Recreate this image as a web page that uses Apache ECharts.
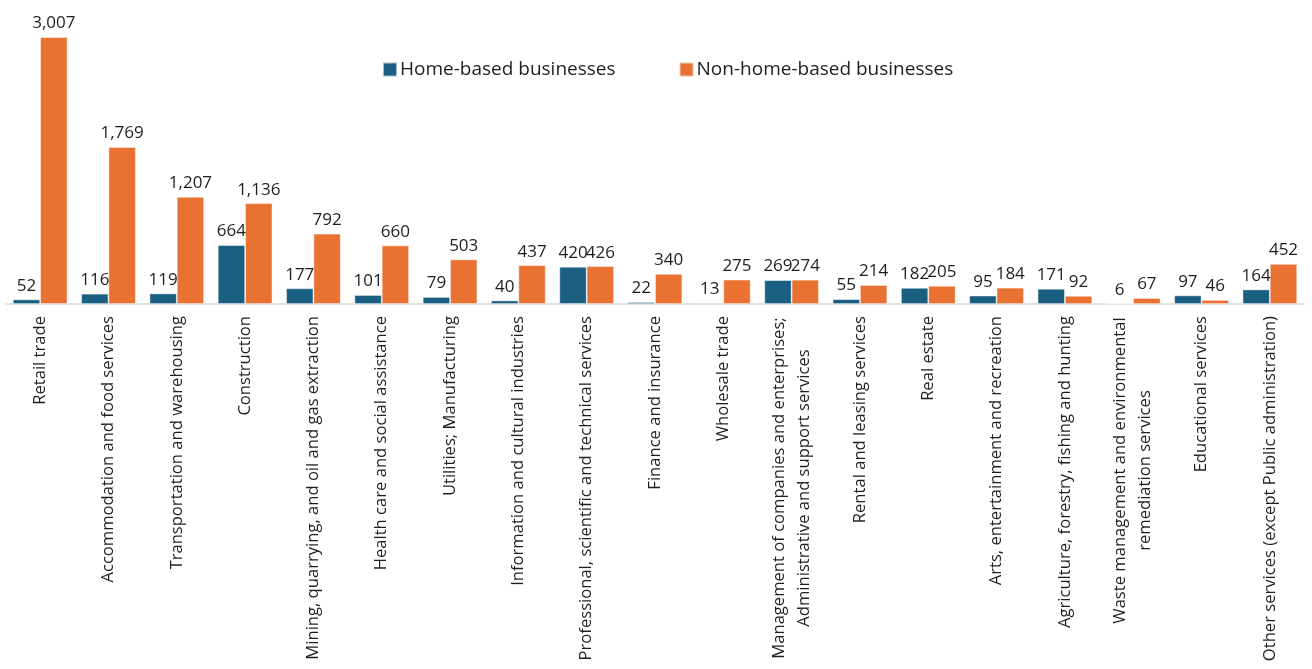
<!DOCTYPE html>
<html>
<head>
<meta charset="utf-8">
<script src="https://cdn.jsdelivr.net/npm/echarts@6/dist/echarts.min.js"></script>
<style>
  html, body { margin: 0; padding: 0; background: #fff; }
  #chart { width: 1312px; height: 669px; }
</style>
</head>
<body>
<div id="chart"></div>
<script>
// Industry categories (line breaks mark two-line axis labels)
const categories = [
  'Retail trade',
  'Accommodation and food services',
  'Transportation and warehousing',
  'Construction',
  'Mining, quarrying, and oil and gas extraction',
  'Health care and social assistance',
  'Utilities; Manufacturing',
  'Information and cultural industries',
  'Professional, scientific and technical services',
  'Finance and insurance',
  'Wholesale trade',
  'Management of companies and enterprises;\nAdministrative and support services',
  'Rental and leasing services',
  'Real estate',
  'Arts, entertainment and recreation',
  'Agriculture, forestry, fishing and hunting',
  'Waste management and environmental\nremediation services',
  'Educational services',
  'Other services (except Public administration)'
];

const homeBased = [52, 116, 119, 664, 177, 101, 79, 40, 420, 22, 13, 269, 55, 182, 95, 171, 6, 97, 164];
const nonHomeBased = [3007, 1769, 1207, 1136, 792, 660, 503, 437, 426, 340, 275, 274, 214, 205, 184, 92, 67, 46, 452];

const seriesNames = ['Home-based businesses', 'Non-home-based businesses'];

const FONT = '"Open Sans", "Noto Sans", sans-serif';
const AXIS_FONT_SIZE = 16.6;
const AXIS_LINE_HEIGHT = 25;
const TEXT_COLOR = '#1e1e1e';

// Measure text so multi-line labels can be centred line by line
const measureCtx = document.createElement('canvas').getContext('2d');
measureCtx.font = AXIS_FONT_SIZE + 'px ' + FONT;
const rich = {};
const labelKeys = {};
categories.forEach((c, i) => {
  const lines = c.split('\n');
  if (lines.length > 1) {
    const w = Math.ceil(Math.max(...lines.map(l => measureCtx.measureText(l).width))) + 2;
    const key = 'm' + i;
    rich[key] = { width: w, align: 'center', fontSize: AXIS_FONT_SIZE, fontFamily: FONT, color: TEXT_COLOR, lineHeight: AXIS_LINE_HEIGHT };
    labelKeys[c] = key;
  }
});

const fmt = v => v.toLocaleString('en-US');

const chart = echarts.init(document.getElementById('chart'), null, { renderer: 'canvas' });
chart.setOption({
  animation: false,
  textStyle: { fontFamily: FONT },
  legend: {
    data: seriesNames,
    left: 377,
    top: 55,
    itemWidth: 14,
    itemHeight: 14,
    itemGap: 63,
    icon: 'rect',
    textStyle: { fontSize: 19, color: TEXT_COLOR, fontFamily: FONT, padding: [0, 0, 0, -2] }
  },
  grid: { left: 6, right: 8, top: 20, bottom: 365, containLabel: false },
  xAxis: {
    type: 'category',
    data: categories,
    axisLine: { lineStyle: { color: '#d9d9d9', width: 1.5 } },
    axisTick: { show: false },
    axisLabel: {
      interval: 0,
      rotate: 90,
      margin: 12,
      fontSize: AXIS_FONT_SIZE,
      fontFamily: FONT,
      color: TEXT_COLOR,
      lineHeight: AXIS_LINE_HEIGHT,
      formatter: function (value) {
        const key = labelKeys[value];
        if (!key) return value;
        return value.split('\n').map(l => '{' + key + '|' + l + '}').join('\n');
      },
      rich: rich
    }
  },
  yAxis: {
    type: 'value',
    min: 0,
    max: 3200,
    show: false,
    splitLine: { show: false }
  },
  series: [
    {
      name: seriesNames[0],
      type: 'bar',
      data: homeBased,
      barGap: '0%',
      barCategoryGap: '20%',
      itemStyle: { color: '#1a5f82', borderColor: 'rgba(255,255,255,0.6)', borderWidth: 0.8 },
      label: {
        show: true, position: 'top', distance: 5,
        fontSize: 17, fontFamily: FONT, color: TEXT_COLOR,
        formatter: p => fmt(p.value)
      }
    },
    {
      name: seriesNames[1],
      type: 'bar',
      data: nonHomeBased,
      barGap: '0%',
      barCategoryGap: '20%',
      itemStyle: { color: '#e97132', borderColor: 'rgba(255,255,255,0.6)', borderWidth: 0.8 },
      label: {
        show: true, position: 'top', distance: 5,
        fontSize: 17, fontFamily: FONT, color: TEXT_COLOR,
        formatter: p => fmt(p.value)
      }
    }
  ]
});
</script>
</body>
</html>
